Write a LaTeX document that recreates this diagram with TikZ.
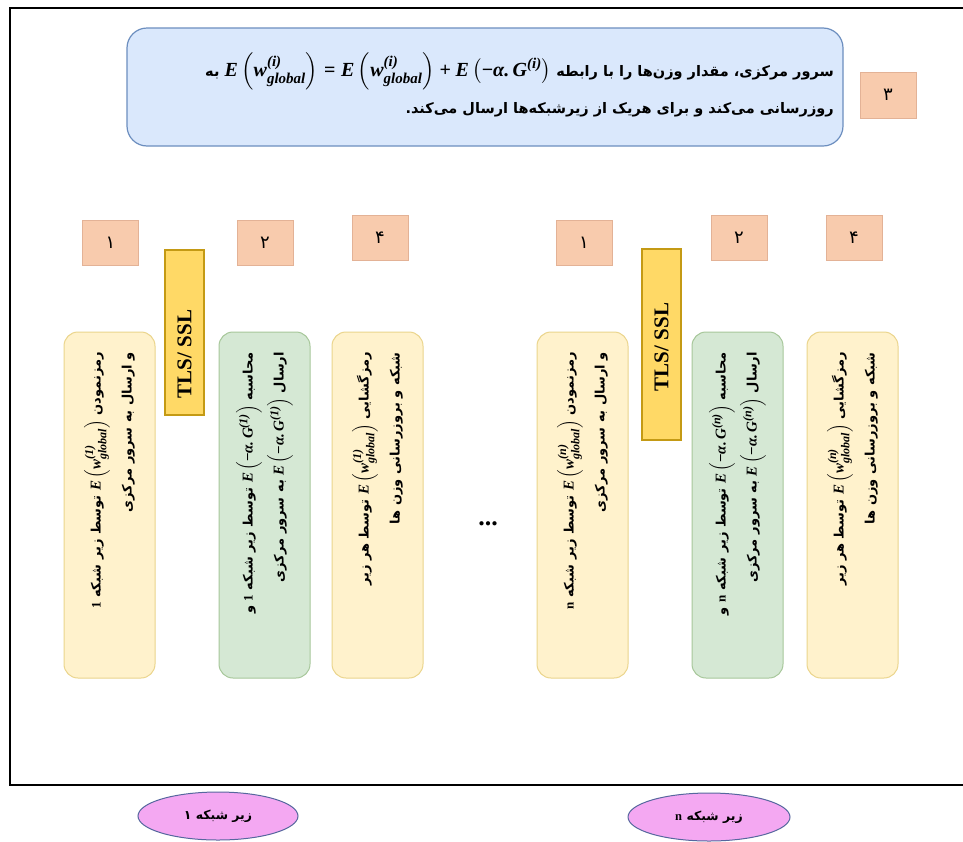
\documentclass[tikz,border=0pt]{standalone}
\usepackage{amsmath}
\usepackage{fontspec}
\setmainfont{Liberation Serif}
\newfontfamily\fa[Script=Arabic]{DejaVu Sans}
\TeXXeTstate=1
\usetikzlibrary{shapes.geometric}
\DeclareMathSizes{20}{20}{15}{11}
\DeclareMathSizes{15}{15}{12}{9}
\definecolor{bluefill}{HTML}{DAE8FC}
\definecolor{blueline}{HTML}{6C8EBF}
\definecolor{numfill}{HTML}{F8CBAD}
\definecolor{numline}{HTML}{E3B296}
\definecolor{yfill}{HTML}{FFF2CC}
\definecolor{yline}{HTML}{EBD58C}
\definecolor{gfill}{HTML}{D5E8D4}
\definecolor{gline}{HTML}{A7C79A}
\definecolor{tlsfill}{HTML}{FFD966}
\definecolor{tlsline}{HTML}{C49A14}
\definecolor{ellfill}{HTML}{F4A8F2}
\definecolor{ellline}{HTML}{56679E}
\newcommand{\faline}[1]{\beginR #1\endR}
\newcommand{\lat}[1]{\beginL{\rmfamily\bfseries #1}\endL}
\newcommand{\bi}[1]{\text{\rmfamily\bfseries\itshape #1}}
\newcommand{\bu}[1]{\text{\rmfamily\bfseries #1}}
\newcommand{\fW}[1]{\bi{E}\left(\bi{w}^{\bi{(#1)}}_{\bi{global}}\right)}
\newcommand{\fG}[1]{\bi{E}\left(\bu{−}\bi{α.}\,\bi{G}^{\bi{(#1)}}\right)}
\newcommand{\mEw}[1]{\beginL{\fontsize{15}{17}\selectfont$\fW{#1}$}\endL}
\newcommand{\mEG}[1]{\beginL{\fontsize{15}{17}\selectfont$\fG{#1}$}\endL}
\newcommand{\mTop}{\beginL{\fontsize{20}{22}\selectfont$\fW{i}\mathrel{\bu{=}}\fW{i}\mathbin{\bu{+}}\fG{i}$}\endL}
\begin{document}
\begin{tikzpicture}[x=1pt,y=-1pt,
  bluebox/.style={draw=blueline,fill=bluefill,line width=1.2pt,rounded corners=20pt,minimum width=716pt,minimum height=118pt,inner sep=0pt},
  numbox/.style={draw=numline,fill=numfill,line width=0.8pt,minimum width=56pt,minimum height=45pt,inner sep=0pt,font=\fa\fontsize{18}{20}\selectfont},
  ybox/.style={draw=yline,fill=yfill,line width=1pt,rounded corners=14pt,minimum width=91pt,minimum height=346pt,inner sep=0pt},
  gbox/.style={ybox,draw=gline,fill=gfill},
  tlsbar/.style={draw=tlsline,fill=tlsfill,line width=1.2pt,minimum width=39pt,inner sep=0pt},
  tlstext/.style={rotate=90,inner sep=0pt,font=\rmfamily\bfseries\fontsize{21}{24}\selectfont},
  vtext/.style={rotate=90,anchor=east,align=right,inner sep=0pt,font=\fa\bfseries\fontsize{13}{31}\selectfont},
  ell/.style={ellipse,draw=ellline,fill=ellfill,line width=1pt,minimum width=160pt,minimum height=48pt,inner sep=0pt,font=\fa\bfseries\fontsize{12.5}{14}\selectfont}]
\useasboundingbox (0,0) rectangle (963,841);
\fill[white] (0,0) rectangle (963,841);
% frame
\draw[line width=2pt] (963,8) -- (10,8) -- (10,785) -- (963,785);
% top box
\node[bluebox] (server) at (485,87) {};
\node[align=right,anchor=east,inner sep=0pt,font=\fa\bfseries\fontsize{14.5}{37}\selectfont] (servertext) at (834,85)
 {\faline{سرور مرکزی، مقدار وزن‌ها را با رابطه \mTop{} به}\\
  \faline{روزرسانی می‌کند و برای هریک از زیرشبکه‌ها ارسال می‌کند.}};
\node[numbox,minimum height=46pt] (n3) at (888,95) {۳};
% number boxes
\node[numbox] (a1) at (110.5,243) {۱};
\node[numbox] (a2) at (265,243) {۲};
\node[numbox] (a4) at (380,237.5) {۴};
\node[numbox] (b1) at (584,242.5) {۱};
\node[numbox] (b2) at (739,238) {۲};
\node[numbox] (b4) at (854,238) {۴};
% TLS bars
\node[tlsbar,minimum height=165pt] (tls1) at (184.5,332.5) {};
\node[tlstext] (tls1t) at (184.5,354) {TLS/ SSL};
\node[tlsbar,minimum height=191pt] (tls2) at (661.5,344.5) {};
\node[tlstext] (tls2t) at (661.5,347) {TLS/ SSL};
% group 1 boxes
\node[ybox] (A) at (109.5,505) {};
\node[vtext] (At) at (A.center |- 0,352)
 {\faline{رمزنمودن \mEw{1} توسط زیر شبکه \lat{1}}\\
  \faline{و ارسال به سرور مرکزی}};
\node[gbox] (B) at (264.5,505) {};
\node[vtext] (Bt) at (B.center |- 0,352)
 {\faline{محاسبه \mEG{1} توسط زیر شبکه \lat{1} و}\\
  \faline{ارسال \mEG{1} به سرور مرکزی}};
\node[ybox] (C) at (377.5,505) {};
\node[vtext] (Ct) at (C.center |- 0,352)
 {\faline{رمزگشایی \mEw{1} توسط هر زیر}\\
  \faline{شبکه و بروزرسانی وزن ها}};
% dots
\node[font=\rmfamily\bfseries\fontsize{26}{28}\selectfont,inner sep=0pt] (dots) at (488,524) {...};
% group n boxes
\node[ybox] (D) at (582.5,505) {};
\node[vtext] (Dt) at (D.center |- 0,352)
 {\faline{رمزنمودن \mEw{n} توسط زیر شبکه \lat{n}}\\
  \faline{و ارسال به سرور مرکزی}};
\node[gbox] (E) at (737.5,505) {};
\node[vtext] (Et) at (E.center |- 0,352)
 {\faline{محاسبه \mEG{n} توسط زیر شبکه \lat{n} و}\\
  \faline{ارسال \mEG{n} به سرور مرکزی}};
\node[ybox] (F) at (852.5,505) {};
\node[vtext] (Ft) at (F.center |- 0,352)
 {\faline{رمزگشایی \mEw{n} توسط هر زیر}\\
  \faline{شبکه و بروزرسانی وزن ها}};
% ellipses
\node[ell] (sub1) at (218,816) {\faline{زیر شبکه ۱}};
\node[ell,minimum width=162pt] (subn) at (709,817) {\faline{زیر شبکه \lat{n}}};
\end{tikzpicture}
\end{document}
